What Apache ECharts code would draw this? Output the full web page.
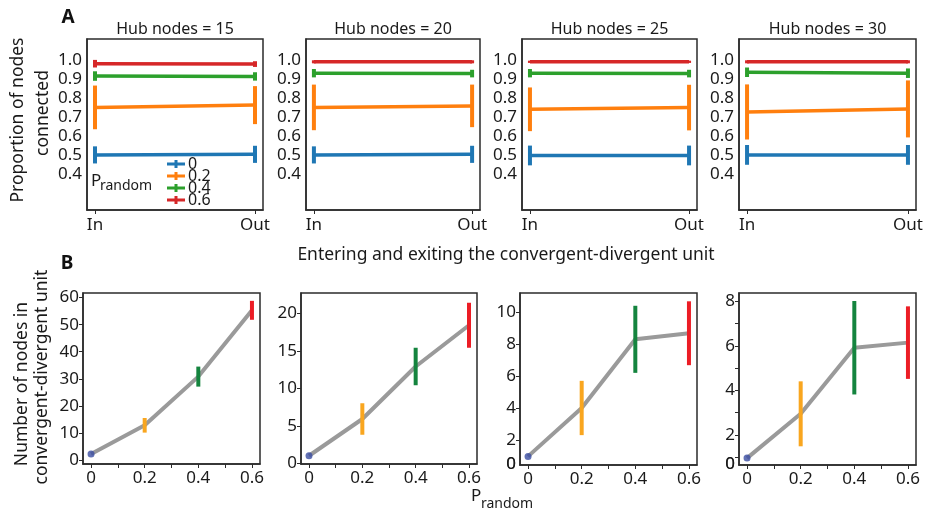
<!DOCTYPE html>
<html>
<head>
<meta charset="utf-8">
<script src="https://cdn.jsdelivr.net/npm/echarts@6/dist/echarts.min.js"></script>
<style>
  html, body { margin: 0; padding: 0; background: #fff; }
  #chart { width: 928px; height: 514px; }
</style>
</head>
<body>
<div id="chart"></div>
<script>
// panel A/B columns
const hubNodes = [15, 20, 25, 30];
const pLabels = ['0', '0.2', '0.4', '0.6'];
const pValues = [0, 0.2, 0.4, 0.6];
const pMinor = [0.1, 0.3, 0.5];

// A: proportion of nodes connected, rows = hub nodes, cols = P_random
const inMean = [
  [0.500, 0.750, 0.915, 0.980],
  [0.500, 0.750, 0.930, 0.990],
  [0.497, 0.740, 0.930, 0.990],
  [0.500, 0.726, 0.935, 0.990]
];
const outMean = [
  [0.503, 0.762, 0.913, 0.978],
  [0.503, 0.758, 0.928, 0.990],
  [0.497, 0.749, 0.928, 0.990],
  [0.500, 0.742, 0.930, 0.990]
];
const inErr = [
  [0.045, 0.115, 0.025, 0.020],
  [0.045, 0.120, 0.022, 0.008],
  [0.052, 0.115, 0.022, 0.006],
  [0.052, 0.145, 0.025, 0.008]
];
const outErr = [
  [0.045, 0.100, 0.022, 0.015],
  [0.045, 0.112, 0.020, 0.008],
  [0.052, 0.120, 0.020, 0.006],
  [0.052, 0.150, 0.025, 0.008]
];
const propTicks = [0.4, 0.5, 0.6, 0.7, 0.8, 0.9, 1.0];
const sideLabels = ['In', 'Out'];

// B: number of nodes in convergent-divergent unit
const unitMean = [
  [2.2, 12.8, 30.8, 55.3],
  [1.0, 5.9, 12.9, 18.4],
  [0.97, 4.0, 8.3, 8.68],
  [0.96, 2.95, 5.92, 6.15]
];
const unitErr = [
  [0, 2.7, 3.7, 3.5],
  [0, 2.1, 2.5, 3.0],
  [0, 1.7, 2.1, 2.0],
  [0, 1.46, 2.1, 1.63]
];
const unitTicks = [
  [0, 10, 20, 30, 40, 50, 60],
  [0, 5, 10, 15, 20],
  [0, 2, 4, 6, 8, 10],
  [0, 2, 4, 6, 8]
];
const unitMinor = [[], [], [], [1, 3, 5, 7]];

// layout / style
const FONT = 'Noto Sans';
const topColors = ['#1f77b4', '#ff7f0e', '#2ca02c', '#d62728'];
const botColors = ['#3b4ea2', '#f9a61f', '#14843e', '#ec1d25'];
const topGrids = [[87, 39, 176, 171], [306, 39, 174, 171], [522, 39, 175, 171], [739, 39, 177, 171]];
const botGrids = [[83, 293, 177, 171], [301, 293, 176, 171], [520, 293, 177, 172], [739, 293, 177, 172]];
const botRange = [[-1.5, 61.7], [-0.1, 22.7], [0.43, 11.2], [0.65, 8.38]];

const chart = echarts.init(document.getElementById('chart'), null, { renderer: 'canvas' });

function errRender(width) {
  return function (params, api) {
    const x = api.value(0), y = api.value(1), e = api.value(2);
    const a = api.coord([x, y - e]);
    const b = api.coord([x, y + e]);
    return {
      type: 'line',
      shape: { x1: a[0], y1: a[1], x2: b[0], y2: b[1] },
      style: { stroke: api.visual('color'), lineWidth: width }
    };
  };
}

const axisLine = { show: true, onZero: false, lineStyle: { color: '#2b2b2b', width: 1.5 } };
const axisTick = { show: true, length: 4, lineStyle: { color: '#2b2b2b', width: 1 } };
const labelStyle = { fontFamily: FONT, fontSize: 17, color: '#1a1a1a' };

let grid = [], xAxis = [], yAxis = [], series = [], graphic = [];

// panel A
hubNodes.forEach(function (h, k) {
  const g = topGrids[k];
  grid.push({ left: g[0], top: g[1], width: g[2], height: g[3], show: true, borderColor: '#2b2b2b', borderWidth: 1.5 });
  xAxis.push({
    type: 'value', gridIndex: k, min: -0.05, max: 1.05,
    axisLine: axisLine, axisTick: Object.assign({ customValues: [0, 1] }, axisTick),
    splitLine: { show: false },
    axisLabel: Object.assign({ customValues: [0, 1], margin: 7, formatter: function (v) { return sideLabels[Math.round(v)]; } }, labelStyle)
  });
  yAxis.push({
    type: 'value', gridIndex: k, min: 0.21, max: 1.11,
    axisLine: axisLine, axisTick: { show: false },
    splitLine: { show: false },
    axisLabel: Object.assign({ customValues: propTicks, margin: 5, formatter: function (v) { return v.toFixed(1); } }, labelStyle)
  });
  pLabels.forEach(function (p, j) {
    series.push({
      type: 'line', name: p, xAxisIndex: k, yAxisIndex: k,
      data: [[0, inMean[k][j]], [1, outMean[k][j]]],
      symbol: 'none', color: topColors[j],
      lineStyle: { width: 3.5, color: topColors[j] }, z: 2, silent: true
    });
    series.push({
      type: 'custom', name: 'err-a-' + k + '-' + j, xAxisIndex: k, yAxisIndex: k,
      data: [[0, inMean[k][j], inErr[k][j]], [1, outMean[k][j], outErr[k][j]]],
      renderItem: errRender(4), itemStyle: { color: topColors[j] }, z: 3, silent: true
    });
  });
  graphic.push({
    type: 'text', x: g[0] + g[2] / 2, y: 29,
    style: { text: 'Hub nodes = ' + h, font: '16px "' + FONT + '"', fill: '#1a1a1a', align: 'center', verticalAlign: 'middle' }
  });
});

// panel B
hubNodes.forEach(function (h, k) {
  const g = botGrids[k];
  const idx = k + 4;
  const r = botRange[k];
  grid.push({ left: g[0], top: g[1], width: g[2], height: g[3], show: true, borderColor: '#2b2b2b', borderWidth: 1.5 });
  xAxis.push({
    type: 'value', gridIndex: idx, min: -0.03, max: 0.63,
    axisLine: axisLine, axisTick: Object.assign({ customValues: pValues.concat(pMinor) }, axisTick),
    splitLine: { show: false },
    axisLabel: Object.assign({ customValues: pValues, margin: 6, formatter: function (v) { return v === 0 ? '0' : v.toFixed(1); } }, labelStyle)
  });
  const inside = unitTicks[k].filter(function (t) { return t >= r[0]; });
  // a tick below the frame: the source figure prints its label on the bottom edge
  const below = unitTicks[k].filter(function (t) { return t < r[0]; });
  const yAx = {
    type: 'value', gridIndex: idx, min: r[0], max: r[1],
    axisLine: axisLine, axisTick: Object.assign({ customValues: inside.concat(unitMinor[k]) }, axisTick),
    splitLine: { show: false },
    axisLabel: Object.assign({ customValues: inside, margin: 4, formatter: function (v) { return String(v); } }, labelStyle)
  };
  if (below.length) {
    yAx.name = String(below[below.length - 1]);
    yAx.nameLocation = 'start';
    yAx.nameGap = -1;
    yAx.nameRotate = 0;
    yAx.nameMoveOverlap = false;
    yAx.nameTextStyle = { fontFamily: FONT, fontSize: 17, color: '#1a1a1a', align: 'right', verticalAlign: 'middle', padding: [0, 4, 0, 0] };
    graphic.push({
      type: 'text', x: g[0] - 4, y: g[1] + g[3] - 1, z: 100,
      style: { text: yAx.name, font: '17px "' + FONT + '"', fill: '#1a1a1a', align: 'right', verticalAlign: 'middle' }
    });
  }
  yAxis.push(yAx);
  series.push({
    type: 'line', xAxisIndex: idx, yAxisIndex: idx,
    data: pValues.map(function (x, j) { return [x, unitMean[k][j]]; }),
    symbol: 'none', lineStyle: { width: 4, color: '#9a9a9a' }, z: 2, silent: true
  });
  series.push({
    type: 'scatter', xAxisIndex: idx, yAxisIndex: idx,
    data: [[pValues[0], unitMean[k][0]]], symbolSize: 7,
    itemStyle: { color: botColors[0] }, z: 4, silent: true
  });
  pValues.forEach(function (x, j) {
    if (unitErr[k][j] <= 0) return;
    series.push({
      type: 'custom', xAxisIndex: idx, yAxisIndex: idx,
      data: [[x, unitMean[k][j], unitErr[k][j]]],
      renderItem: errRender(4), itemStyle: { color: botColors[j] }, z: 3, silent: true
    });
  });
});

function txt(x, y, s, size, extra) {
  return Object.assign({
    type: 'text', x: x, y: y,
    style: { text: s, font: size + 'px "' + FONT + '"', fill: '#1a1a1a', align: 'center', verticalAlign: 'middle' }
  }, extra || {});
}

graphic.push(
  { type: 'text', x: 68, y: 18, style: { text: 'A', font: 'bold 19px "' + FONT + '"', fill: '#111', align: 'center', verticalAlign: 'middle' } },
  { type: 'text', x: 67, y: 264, style: { text: 'B', font: 'bold 19px "' + FONT + '"', fill: '#111', align: 'center', verticalAlign: 'middle' } },
  txt(18, 120, 'Proportion of nodes', 17.5, { rotation: Math.PI / 2 }),
  txt(43, 113, 'connected', 17.5, { rotation: Math.PI / 2 }),
  txt(506, 255, 'Entering and exiting the convergent-divergent unit', 17.5),
  txt(22, 384, 'Number of nodes in', 17.5, { rotation: Math.PI / 2 }),
  txt(42, 377, 'convergent-divergent unit', 17.5, { rotation: Math.PI / 2 }),
  // P_random, legend title
  { type: 'text', x: 91, y: 181, style: { text: 'P', font: '17px "' + FONT + '"', fill: '#1a1a1a', align: 'left', verticalAlign: 'middle' } },
  { type: 'text', x: 100, y: 186, style: { text: 'random', font: '14px "' + FONT + '"', fill: '#1a1a1a', align: 'left', verticalAlign: 'middle' } },
  // P_random, x axis name of B
  { type: 'text', x: 471, y: 496, style: { text: 'P', font: '17px "' + FONT + '"', fill: '#1a1a1a', align: 'left', verticalAlign: 'middle' } },
  { type: 'text', x: 481, y: 504, style: { text: 'random', font: '14px "' + FONT + '"', fill: '#1a1a1a', align: 'left', verticalAlign: 'middle' } }
);

chart.setOption({
  animation: false,
  backgroundColor: '#fff',
  grid: grid,
  xAxis: xAxis,
  yAxis: yAxis,
  series: series,
  graphic: graphic,
  legend: {
    data: pLabels,
    orient: 'vertical',
    left: 162, top: 151,
    icon: 'path://M0,3.5H18V6.5H0Z M7.5,1H10.5V9H7.5Z',
    itemWidth: 18, itemHeight: 9, itemGap: -4,
    selectedMode: false,
    textStyle: { fontFamily: FONT, fontSize: 16, color: '#1a1a1a', lineHeight: 14, padding: [0, 0, 0, -2] }
  }
});
</script>
</body>
</html>
